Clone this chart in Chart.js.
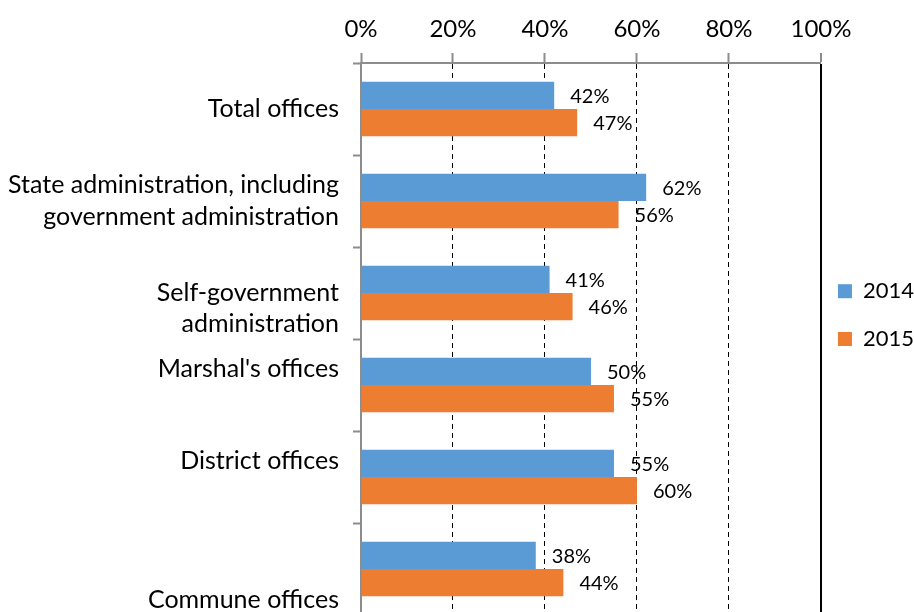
<!DOCTYPE html>
<html>
<head>
<meta charset="utf-8">
<script src="https://cdn.jsdelivr.net/npm/chart.js@4"></script>
<style>
  html, body { margin: 0; padding: 0; background: #fff; overflow: hidden; }
  #wrap { width: 914px; height: 700px; }
</style>
</head>
<body>
<div id="wrap"><canvas id="myChart"></canvas></div>
<script>
// data
var categories = [
    ['Total offices'],
    ['State administration, including', 'government administration'],
    ['Self-government', 'administration'],
    ["Marshal's offices"],
    ['District offices'],
    ['Commune offices']
]
var years = ['2014', '2015']
var values2014 = [42, 62, 41, 50, 55, 38]
var values2015 = [47, 56, 46, 55, 60, 44]
var xTicks = [0, 20, 40, 60, 80, 100]

// Excel put some category labels a bit off centre, shift them by empty lines
var labelShift = [0, 0, 1, -1, -1, 2]

var font = 'Lato, "Liberation Sans", sans-serif'
var gray = '#8c8c8c'

var barLabels = {
    id: 'barLabels',
    afterDatasetsDraw: function (chart) {
        var ctx = chart.ctx
        ctx.save()
        ctx.font = '20px ' + font
        ctx.fillStyle = '#000'
        ctx.textAlign = 'left'
        ctx.textBaseline = 'middle'
        chart.data.datasets.forEach(function (ds, i) {
            chart.getDatasetMeta(i).data.forEach(function (bar, j) {
                ctx.fillText(ds.data[j] + '%', bar.x + 16, bar.y + 1)
            })
        })
        ctx.restore()
    }
}

var ctx = document.getElementById('myChart').getContext('2d')
var myChart = new Chart(ctx, {
    type: 'bar',
    data: {
        labels: categories.map(function (c) { return c.join(' ') }),
        datasets: [{
            label: years[0],
            data: values2014,
            backgroundColor: '#5b9bd5'
        }, {
            label: years[1],
            data: values2015,
            backgroundColor: '#ed7d31'
        }]
    },
    options: {
        indexAxis: 'y',
        responsive: true,
        maintainAspectRatio: false,
        animation: false,
        layout: {
            padding: { top: 0, left: 0, right: -10, bottom: 85 }
        },
        datasets: {
            bar: {
                categoryPercentage: 0.59,
                barPercentage: 1
            }
        },
        plugins: {
            legend: {
                position: 'right',
                title: { display: true, text: '', padding: 0, font: { size: 20, lineHeight: 1.2 } },
                labels: {
                    boxWidth: 14,
                    boxHeight: 14,
                    padding: 17,
                    color: '#000',
                    font: { family: font, size: 22, lineHeight: 1.4 },
                    generateLabels: function (chart) {
                        var items = Chart.defaults.plugins.legend.labels.generateLabels(chart)
                        items.forEach(function (it) { it.text = [it.text]; it.lineWidth = 0 })
                        return items
                    }
                }
            },
            tooltip: { enabled: false }
        },
        scales: {
            x: {
                position: 'top',
                min: 0,
                max: 100,
                afterBuildTicks: function (scale) {
                    scale.ticks = xTicks.map(function (v) { return { value: v } })
                },
                afterFit: function (scale) { scale.height = 63 },
                ticks: {
                    color: '#000',
                    padding: 9,
                    font: { family: font, size: 24 },
                    callback: function (v) { return v + '%' }
                },
                grid: {
                    color: function (c) {
                        if (c.index === 0) return 'rgba(0,0,0,0)'
                        return '#000'
                    },
                    lineWidth: function (c) { return c.index === xTicks.length - 1 ? 2 : 1 },
                    tickColor: gray,
                    tickLength: 10,
                    tickWidth: 2
                },
                border: {
                    color: gray,
                    width: 2,
                    dash: function (c) {
                        if (c.index === undefined || c.index === xTicks.length - 1) return []
                        return [5, 4]
                    }
                }
            },
            y: {
                afterFit: function (scale) { scale.width = 361 },
                ticks: {
                    color: '#000',
                    padding: 14,
                    autoSkip: false,
                    font: { family: font, size: 25, lineHeight: 1.25 },
                    callback: function (v, i) {
                        var lines = categories[i].slice()
                        var s = labelShift[i]
                        for (var k = 0; k < Math.abs(s); k++) {
                            if (s > 0) lines.unshift('')
                            else lines.push('')
                        }
                        return lines
                    }
                },
                grid: {
                    drawOnChartArea: false,
                    color: gray,
                    tickColor: gray,
                    tickLength: 8,
                    tickWidth: 2
                },
                border: {
                    color: gray,
                    width: 2
                }
            }
        }
    },
    plugins: [barLabels]
})
</script>
</body>
</html>
